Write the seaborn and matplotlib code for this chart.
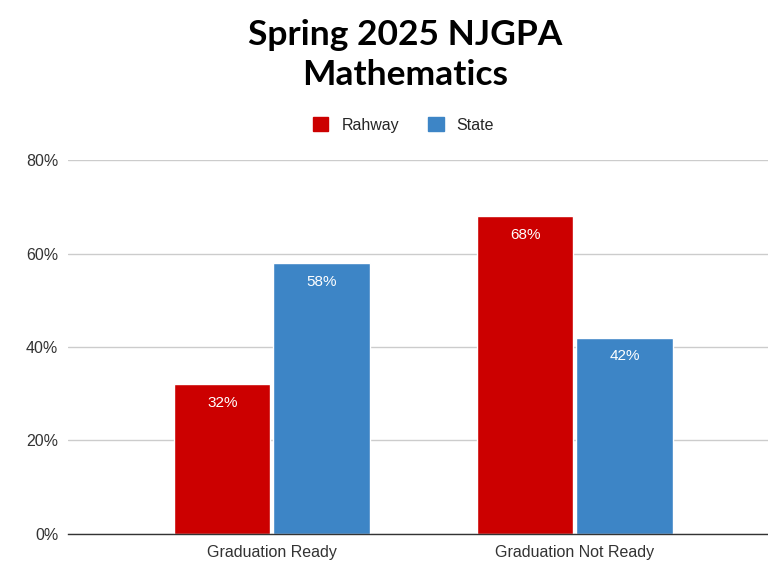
import pandas as pd
import matplotlib.pyplot as plt
import seaborn as sns
from matplotlib.patches import Patch

# Data
categories = ["Graduation Ready", "Graduation Not Ready"]
rahway = [32, 68]
state = [58, 42]
series_names = ["Rahway", "State"]
colors = ["#cc0000", "#3d85c6"]

df = pd.DataFrame({
    "Category": categories * 2,
    "Group": [series_names[0]] * 2 + [series_names[1]] * 2,
    "Value": rahway + state,
})

sns.set_style("white")
plt.rcParams["font.family"] = ["Liberation Sans", "DejaVu Sans"]

fig = plt.figure(figsize=(7.68, 5.76), dpi=100)
ax = fig.add_axes([0.0885, 0.073, 0.9115, 0.649])

sns.barplot(data=df, x="Category", y="Value", hue="Group", palette=colors,
            width=0.655, gap=0.03, saturation=1, ax=ax, legend=False)

# value labels inside top of bars
for container in ax.containers:
    ax.bar_label(container, labels=[f"{v:.0f}%" for v in container.datavalues],
                 padding=-18.5, color="white", fontsize=11)

ax.set_ylim(0, 80)
ax.set_yticks([0, 20, 40, 60, 80])
ax.set_yticklabels([f"{t}%" for t in [0, 20, 40, 60, 80]], fontsize=11.5, color="#333333")
ax.set_xlim(-0.673, 1.637)
ax.tick_params(axis="x", labelsize=11.5, labelcolor="#333333", length=0, pad=8)
ax.tick_params(axis="y", length=0, pad=7)
ax.set_xlabel("")
ax.set_ylabel("")
ax.yaxis.grid(True, color="#cccccc", linewidth=1)
ax.set_axisbelow(True)
for side in ["top", "right", "left"]:
    ax.spines[side].set_visible(False)
ax.spines["bottom"].set_color("#333333")
ax.spines["bottom"].set_linewidth(1)

# legend
handles = [Patch(facecolor=c, edgecolor=c) for c in colors]
fig.legend(handles, series_names, loc="center", bbox_to_anchor=(0.525, 0.783),
           ncol=2, frameon=False, fontsize=11.5, handlelength=1.0, handleheight=1.0,
           columnspacing=1.8, handletextpad=0.8)

fig.text(0.527, 0.939, "Spring 2025 NJGPA", ha="center", va="center", color="black",
         fontsize=25.5, fontweight="bold", family=["Lato", "DejaVu Sans"])
fig.text(0.527, 0.870, "Mathematics", ha="center", va="center", color="black",
         fontsize=25.5, fontweight="bold", family=["Lato", "DejaVu Sans"])

fig.savefig("out.png", dpi=100)
